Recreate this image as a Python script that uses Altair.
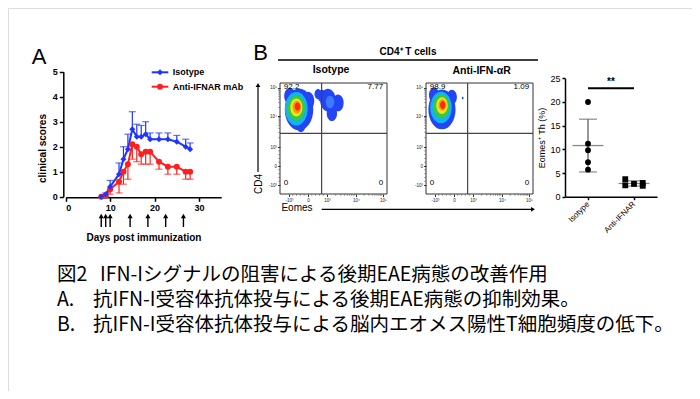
import math
import altair as alt
import pandas as pd

W, H = 684, 383
FONT = "Liberation Sans"
JFONT = "Noto Sans CJK JP"

# ---------------- Panel A : clinical scores ----------------
days = [8, 9, 10, 12, 13, 14, 15, 16, 17, 18, 19, 21, 23, 25, 27, 28]
iso_mean = [0, 0.1, 0.4, 0.9, 1.5, 1.9, 2.7, 2.4, 2.4, 2.5, 2.3, 2.3, 2.3, 2.2, 2.0, 1.9]
iso_sem = [0, 0.05, 0.25, 0.45, 0.5, 0.6, 0.7, 0.5, 0.45, 0.5, 0.25, 0.25, 0.25, 0.25, 0.3, 0.25]
anti_mean = [0, 0.05, 0.3, 0.6, 1.0, 1.3, 2.1, 2.0, 1.7, 1.8, 1.8, 1.4, 1.2, 1.2, 1.0, 1.0]
anti_sem = [0, 0.05, 0.2, 0.45, 0.5, 0.6, 0.6, 0.6, 0.4, 0.5, 0.5, 0.3, 0.3, 0.3, 0.3, 0.3]
series = ["Isotype", "Anti-IFNAR mAb"]
series_colors = ["#1f35ff", "#ff1f1f"]
series_shapes = ["diamond", "circle"]
injection_days = [8, 9, 10, 14.5, 18.5, 22.5, 26.5]

# ---------------- Panel B : flow plots (biexponential display units) ----------------
flow_tick_x = [-1, 0, 1, 2.53, 3.95]
flow_tick_y = [-1, 0, 1, 2.63, 4.12]
flow_tick_labels = ["-10³", "0", "10³", "10⁴", "10⁵"]
flow_x_dom = [-1.47, 4.16]
flow_y_dom = [-1.47, 4.37]
gate_x = 0.72
gate_y = 1.72
iso_quadrants = ["92.2", "7.77", "0", "0"]
anti_quadrants = ["98.9", "1.09", "0", "0"]
density_colors = ["#2445f5", "#3a7bff", "#12b4ef", "#3cc83c", "#e8e81a", "#ff9a14", "#ff2a10"]

iso_blob_x = [-0.47, -0.95, 0.0, -0.37, 1.05, 1.58, 0.74, 0.53, 1.26, 1.16, -0.61, -0.61, -0.61, -0.58, -0.55]
iso_blob_y = [2.98, 3.68, 3.42, 2.15, 3.47, 3.32, 3.68, 3.79, 2.77, 3.37, 3.02, 3.05, 3.08, 3.1, 3.13]
iso_blob_r = [1.1, 0.44, 0.49, 0.36, 0.6, 0.44, 0.33, 0.27, 0.4, 0.33, 0.88, 0.66, 0.47, 0.33, 0.22]
iso_blob_level = [0, 0, 0, 0, 0, 0, 0, 0, 0, 1, 2, 3, 4, 5, 6]

anti_blob_x = [-0.63, -1.05, -0.11, 0.46, -0.68, -0.66, -0.63, -0.61, -0.59]
anti_blob_y = [2.98, 3.74, 3.63, 3.58, 3.08, 3.15, 3.18, 3.21, 3.21]
anti_blob_r = [1.05, 0.39, 0.39, 0.07, 0.83, 0.61, 0.44, 0.3, 0.21]
anti_blob_level = [0, 0, 0, 0, 2, 3, 4, 5, 6]

# ---------------- Panel B : Eomes+ Th scatter ----------------
groups = ["Isotype", "Anti-IFNAR"]
iso_eomes = [20, 11.2, 9.8, 7.3, 5.7]
anti_eomes = [3.7, 2.4, 2.7, 2.9, 2.3]
anti_spread = [-0.19, -0.19, 0, 0.19, 0.19]
sig_label = "**"
sig_level = 22.9

# ---------------- Caption ----------------
cap_fig = "図2"
cap_title = "IFN-Iシグナルの阻害による後期EAE病態の改善作用"
cap_a = "抗IFN-I受容体抗体投与による後期EAE病態の抑制効果。"
cap_b = "抗IFN-I受容体抗体投与による脳内エオメス陽性T細胞頻度の低下。"

# =====================================================================
rowsA = []
for g, means, sems, sign in [(series[1], anti_mean, anti_sem, -1), (series[0], iso_mean, iso_sem, 1)]:
    for d, m, s in zip(days, means, sems):
        rowsA.append({"day": d, "score": m, "sem": s, "end": m + sign * s, "series": g})
dfA = pd.DataFrame(rowsA)
dfInj = pd.DataFrame({"inj": injection_days})

scAx = alt.Scale(domain=[0, 35], range=[57.7, 213.2], nice=False, zero=False)
scAy = alt.Scale(domain=[0, 5], range=[188.7, 63.7], nice=False, zero=False)
axA_x = alt.Axis(orient="bottom", offset=-193.7, values=[0, 10, 20, 30], title="Days post immunization",
                 titleFont=FONT, titleFontSize=10, titleFontWeight="bold", titlePadding=20, titleColor="black",
                 labelFont=FONT, labelFontSize=9, labelFontWeight="bold", labelPadding=2, labelColor="black",
                 tickSize=4, tickWidth=1.5, tickColor="black", domainWidth=1.5, domainColor="black", grid=False)
axA_y = alt.Axis(orient="left", offset=-55.3, values=[0, 1, 2, 3, 4, 5], title="clinical scores",
                 titleFont=FONT, titleFontSize=10, titleFontWeight="bold", titlePadding=5, titleColor="black",
                 titleY=140,
                 labelFont=FONT, labelFontSize=9, labelFontWeight="bold", labelPadding=2, labelColor="black",
                 tickSize=4, tickWidth=1.5, tickColor="black", domainWidth=1.5, domainColor="black", grid=False)
colScale = alt.Scale(domain=series, range=series_colors)
colA = alt.Color("series:N", scale=colScale, legend=None)
shpA = alt.Shape("series:N", scale=alt.Scale(domain=series, range=series_shapes), legend=None)

baseA = alt.Chart(dfA)
errA = baseA.transform_filter("datum.sem > 0").mark_rule(strokeWidth=1.2).encode(
    x=alt.X("day:Q", scale=scAx, axis=axA_x), y=alt.Y("score:Q", scale=scAy, axis=axA_y), y2="end:Q", color=colA)
capA = baseA.transform_filter("datum.sem > 0").mark_tick(orient="horizontal", size=7, thickness=1.2).encode(
    x=alt.X("day:Q", scale=scAx, axis=axA_x), y=alt.Y("end:Q", scale=scAy, axis=axA_y), color=colA)
lineA = baseA.mark_line(strokeWidth=2).encode(
    x=alt.X("day:Q", scale=scAx, axis=axA_x), y=alt.Y("score:Q", scale=scAy, axis=axA_y), color=colA)
ptsA = baseA.mark_point(filled=True, opacity=1, size=36).encode(
    x=alt.X("day:Q", scale=scAx, axis=axA_x), y=alt.Y("score:Q", scale=scAy, axis=axA_y), color=colA, shape=shpA)
injRule = alt.Chart(dfInj).mark_rule(strokeWidth=1.4, color="black").encode(
    x=alt.X("inj:Q", scale=scAx, axis=axA_x), y=alt.value(219), y2=alt.value(209))
injHead = alt.Chart(dfInj).mark_point(shape="triangle-up", filled=True, size=26, color="black", opacity=1).encode(
    x=alt.X("inj:Q", scale=scAx, axis=axA_x), y=alt.value(208))
panelA = alt.layer(errA, capA, lineA, ptsA, injRule, injHead)

# legend of panel A (key line + marker + label per series)
legend_layers = []
for i, (s, c, sh) in enumerate(zip(series, series_colors, series_shapes)):
    dfl = pd.DataFrame({"name": [s]})
    yy = 64.3 + 14.4 * i
    legend_layers.append(alt.Chart(dfl).mark_rule(strokeWidth=2, color=c).encode(
        x=alt.value(143.7), x2=alt.value(160.3), y=alt.value(yy)))
    legend_layers.append(alt.Chart(dfl).mark_point(shape=sh, filled=True, opacity=1, size=36, color=c).encode(
        x=alt.value(152), y=alt.value(yy)))
    legend_layers.append(alt.Chart(dfl).mark_text(align="left", baseline="middle", font=FONT, fontSize=9,
                                                  fontWeight="bold", color="black").encode(
        x=alt.value(164.7), y=alt.value(yy), text="name:N"))

# ---------------- flow panels ----------------
def tick_expr(vals, labels):
    expr = "''"
    for v, l in zip(vals, labels):
        expr = f"abs(datum.value - ({v})) < 0.01 ? '{l}' : ({expr})"
    return expr

minor_x = [-0.8, -0.6, -0.4, -0.2, 0.2, 0.4, 0.6, 0.8] + \
          [1 + 1.53 * math.log10(k) for k in range(2, 10)] + [2.53 + 1.42 * math.log10(k) for k in range(2, 10)]
minor_y = [-0.8, -0.6, -0.4, -0.2, 0.2, 0.4, 0.6, 0.8] + \
          [1 + 1.63 * math.log10(k) for k in range(2, 10)] + [2.63 + 1.49 * math.log10(k) for k in range(2, 10)]

def flow_panel(x0, bx, by, br, bl, quads):
    xs = alt.Scale(domain=flow_x_dom, range=[x0, x0 + 107], nice=False, zero=False)
    ys = alt.Scale(domain=flow_y_dom, range=[186, 75], nice=False, zero=False)
    ax_x = alt.Axis(orient="bottom", offset=186 - H, values=flow_tick_x, labelExpr=tick_expr(flow_tick_x, flow_tick_labels),
                    title=None, grid=False, domain=False, tickSize=2.5, tickColor="#333", labelFont=FONT,
                    labelFontSize=4.5, labelColor="#222", labelPadding=1)
    ax_y = alt.Axis(orient="left", offset=-x0, values=flow_tick_y, labelExpr=tick_expr(flow_tick_y, flow_tick_labels),
                    title=None, grid=False, domain=False, tickSize=2.5, tickColor="#333", labelFont=FONT,
                    labelFontSize=4.5, labelColor="#222", labelPadding=1)
    X = lambda f: alt.X(f, scale=xs, axis=ax_x)
    Y = lambda f: alt.Y(f, scale=ys, axis=ax_y)
    dfb = pd.DataFrame({"bx": bx, "by": by, "r": br, "lvl": bl})
    dfb["ord"] = range(len(dfb))
    blobs = alt.Chart(dfb).mark_point(filled=True, opacity=1, strokeWidth=0,
                                      shape="M0,-1A0.68,1,0,1,1,0,1A0.68,1,0,1,1,0,-1Z").encode(
        x=X("bx:Q"), y=Y("by:Q"),
        size=alt.Size("r:Q", scale=alt.Scale(type="pow", exponent=2, domain=[0, 1], range=[0, 1444]), legend=None),
        color=alt.Color("lvl:O", scale=alt.Scale(domain=list(range(7)), range=density_colors), legend=None),
        order=alt.Order("ord:Q"))
    dfbox = pd.DataFrame({"x1": [flow_x_dom[0]], "x2": [flow_x_dom[1]], "y1": [flow_y_dom[0]], "y2": [flow_y_dom[1]],
                          "gx": [gate_x], "gy": [gate_y]})
    box = alt.Chart(dfbox).mark_rect(fillOpacity=0, stroke="#333", strokeWidth=1).encode(
        x=X("x1:Q"), x2="x2:Q", y=Y("y1:Q"), y2="y2:Q")
    gv = alt.Chart(dfbox).mark_rule(stroke="#444", strokeWidth=1.2).encode(x=X("gx:Q"), y=Y("y1:Q"), y2="y2:Q")
    gh = alt.Chart(dfbox).mark_rule(stroke="#444", strokeWidth=1.2).encode(x=X("x1:Q"), x2="x2:Q", y=Y("gy:Q"))
    mx = alt.Chart(pd.DataFrame({"m": minor_x})).mark_rule(stroke="#555", strokeWidth=0.6).encode(
        x=X("m:Q"), y=alt.value(186), y2=alt.value(187.8))
    my = alt.Chart(pd.DataFrame({"m": minor_y})).mark_rule(stroke="#555", strokeWidth=0.6).encode(
        y=Y("m:Q"), x=alt.value(x0), x2=alt.value(x0 - 1.8))
    pad_x = 0.2
    dq = pd.DataFrame({"lab": quads,
                       "qx": [flow_x_dom[0] + pad_x, flow_x_dom[1] - pad_x, flow_x_dom[0] + pad_x, flow_x_dom[1] - pad_x],
                       "qy": [4.18, 4.18, -0.89, -0.89],
                       "side": ["l", "r", "l", "r"]})
    ql = alt.Chart(dq).transform_filter("datum.side == 'l'").mark_text(align="left", baseline="middle", font=FONT,
                                                                         fontSize=8, color="black").encode(
        x=X("qx:Q"), y=Y("qy:Q"), text="lab:N")
    qr = alt.Chart(dq).transform_filter("datum.side == 'r'").mark_text(align="right", baseline="middle", font=FONT,
                                                                         fontSize=8, color="black").encode(
        x=X("qx:Q"), y=Y("qy:Q"), text="lab:N")
    return alt.layer(blobs, box, gv, gh, mx, my, ql, qr)

flow1 = flow_panel(272, iso_blob_x, iso_blob_y, iso_blob_r, iso_blob_level, iso_quadrants)
flow2 = flow_panel(418, anti_blob_x, anti_blob_y, anti_blob_r, anti_blob_level, anti_quadrants)

# ---------------- scatter ----------------
rowsS = []
for v in iso_eomes:
    rowsS.append({"group": groups[0], "gidx": 0.5, "xpos": 0.5, "val": v})
for v, s in zip(anti_eomes, anti_spread):
    rowsS.append({"group": groups[1], "gidx": 1.5, "xpos": 1.5 + s, "val": v})
dfS = pd.DataFrame(rowsS)
scSx = alt.Scale(domain=[0, 2], range=[557, 649], nice=False, zero=False)
scSy = alt.Scale(domain=[0, 25], range=[188.7, 70.3], nice=False, zero=False)
axS_x = alt.Axis(orient="bottom", offset=-194.3, values=[0.5, 1.5],
                 labelExpr=f"datum.value < 1 ? '{groups[0]}' : '{groups[1]}'", title=None, grid=False,
                 labelAngle=-45, labelAlign="right", labelBaseline="middle", labelPadding=3,
                 labelFont=FONT, labelFontSize=8, labelColor="black",
                 tickSize=3, tickWidth=1.5, tickColor="black", domainWidth=1.5, domainColor="black")
axS_y = alt.Axis(orient="left", offset=-557, values=[0, 5, 10, 15, 20, 25], title="Eomes⁺ Th (%)",
                 titleFont=FONT, titleFontSize=9, titleFontWeight="normal", titleColor="black", titlePadding=3,
                 labelFont=FONT, labelFontSize=9, labelColor="black", labelPadding=2,
                 tickSize=3, tickWidth=1.5, tickColor="black", domainWidth=1.5, domainColor="black", grid=False)
SX = lambda f: alt.X(f, scale=scSx, axis=axS_x)
SY = lambda f: alt.Y(f, scale=scSy, axis=axS_y)
stats = alt.Chart(dfS).transform_aggregate(mean="mean(val)", sd="stdev(val)", groupby=["group", "gidx"]).transform_calculate(
    lo="datum.mean - datum.sd", hi="datum.mean + datum.sd")
sdRule = stats.mark_rule(color="#555", strokeWidth=1.2).encode(x=SX("gidx:Q"), y=SY("lo:Q"), y2="hi:Q")
meanTick = stats.mark_tick(orient="horizontal", size=31, thickness=1.3, color="#555").encode(x=SX("gidx:Q"), y=SY("mean:Q"))
loTick = stats.mark_tick(orient="horizontal", size=18, thickness=1.2, color="#555").encode(x=SX("gidx:Q"), y=SY("lo:Q"))
hiTick = stats.mark_tick(orient="horizontal", size=18, thickness=1.2, color="#555").encode(x=SX("gidx:Q"), y=SY("hi:Q"))
ptsS = alt.Chart(dfS).mark_point(filled=True, opacity=1, size=34, color="black").encode(
    x=SX("xpos:Q"), y=SY("val:Q"),
    shape=alt.Shape("group:N", scale=alt.Scale(domain=groups, range=["circle", "square"]), legend=None))
dfSig = pd.DataFrame({"x1": [0.5], "x2": [1.5], "xm": [1.0], "y": [sig_level], "lab": [sig_label]})
sigRule = alt.Chart(dfSig).mark_rule(strokeWidth=2, color="black").encode(x=SX("x1:Q"), x2="x2:Q", y=SY("y:Q"))
sigText = alt.Chart(dfSig).mark_text(font=FONT, fontSize=10, fontWeight="bold", baseline="bottom", dy=-1).encode(
    x=SX("xm:Q"), y=SY("y:Q"), text="lab:N")
scatter = alt.layer(sdRule, meanTick, loTick, hiTick, ptsS, sigRule, sigText)

# ---------------- annotations ----------------
def label(txt, x, y, size=10, weight="normal", font=FONT, align="center", angle=0, baseline="middle"):
    kw = dict(font=font, fontSize=size, fontWeight=weight, align=align, baseline=baseline, color="black")
    if angle:
        kw["angle"] = angle
    return alt.Chart(pd.DataFrame({"t": [txt]})).mark_text(**kw).encode(
        text="t:N", x=alt.value(x), y=alt.value(y))

one = pd.DataFrame({"k": [0]})
annots = [
    label("A", 31, 49, size=22),
    label("B", 252.5, 45, size=22),
    label("CD4⁺ T cells", 400, 44, size=10, weight="bold"),
    alt.Chart(one).mark_rule(strokeWidth=1.5, color="black").encode(x=alt.value(270), x2=alt.value(530), y=alt.value(52)),
    label("Isotype", 323, 61.5, size=10.5, weight="bold"),
    label("Anti-IFN-αR", 473.7, 62.7, size=10.5, weight="bold"),
    label("CD4", 251, 176, size=10, angle=270),
    alt.Chart(one).mark_rule(strokeWidth=1.2, color="black").encode(x=alt.value(250), y=alt.value(164), y2=alt.value(79)),
    alt.Chart(one).mark_point(shape="triangle-up", filled=True, size=22, color="black", opacity=1).encode(
        x=alt.value(250), y=alt.value(77)),
    label("Eomes", 289, 200.3, size=10),
    alt.Chart(one).mark_rule(strokeWidth=1.2, color="black").encode(x=alt.value(313.7), x2=alt.value(523), y=alt.value(201.3)),
    alt.Chart(one).mark_point(shape="triangle-right", filled=True, size=22, color="black", opacity=1).encode(
        x=alt.value(525), y=alt.value(201.3)),
    label(cap_fig, 49, 267, size=19.5, font=JFONT, align="left"),
    label(cap_title, 92, 267, size=19.5, font=JFONT, align="left"),
    label("A.", 49, 292, size=19.5, font=JFONT, align="left"),
    label(cap_a, 85, 292, size=19.5, font=JFONT, align="left"),
    label("B.", 49, 317, size=19.5, font=JFONT, align="left"),
    label(cap_b, 85, 317, size=19.5, font=JFONT, align="left"),
]

chart = alt.layer(panelA, *legend_layers, flow1, flow2, scatter, *annots).resolve_scale(
    x="independent", y="independent", color="independent", shape="independent", size="independent"
).resolve_axis(x="independent", y="independent").resolve_legend(
    color="independent", shape="independent", size="independent"
).properties(
    width=W, height=H, autosize=alt.AutoSizeParams(type="none"), padding=0
).configure_view(stroke=None).configure(font=FONT)

chart.save("out.html", embed_options={"renderer": "svg", "actions": False})
